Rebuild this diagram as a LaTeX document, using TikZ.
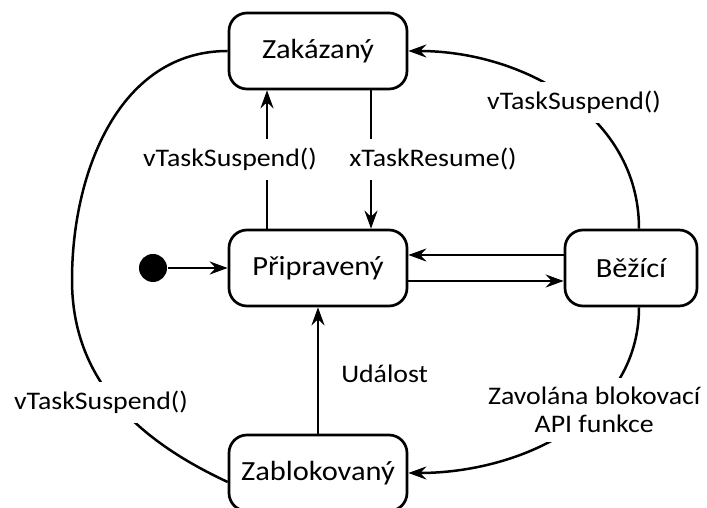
\documentclass[tikz,border=0pt]{standalone}
\usepackage{fontspec}
\setmainfont{Carlito}[FakeStretch=1.1]
\usetikzlibrary{arrows.meta,positioning}

\begin{document}
\begin{tikzpicture}
      [x=1pt, y=1pt, line width=2.5pt,
       >={Stealth[length=18pt,width=13pt,inset=6pt]},
       state/.style={draw, line width=2.7pt, rounded corners=18pt, minimum width=178pt,
         minimum height=76pt, font=\fontsize{27.7}{33}\selectfont},
       lbl/.style={fill=white, inner sep=9pt, font=\fontsize{25.3}{28.5}\selectfont},
      ]
      \useasboundingbox (0,0) rectangle (707,508);
      \node[state] (prip) at (318,240) {Připravený};
      \node[state, above of=prip, node distance=217pt] (zak) {Zakázaný};
      \node[state, below of=prip, node distance=205pt] (zab) {Zablokovaný};
      \node[state, right of=prip, node distance=313pt, minimum width=132pt] (bez) {Běžící};
      \node[circle, fill, inner sep=0pt, minimum size=28pt, left of=prip, node distance=165pt] (start) {};
      \coordinate (oblouk) at (72,228);

      \draw[->] (start) to (prip);
      \draw[->] ([xshift=-51pt]prip.north) to node[lbl, xshift=-37pt]{vTaskSuspend()} ([xshift=-51pt]zak.south);
      \draw[->] ([xshift=53pt]zak.south) to node[lbl, xshift=62pt]{xTaskResume()} ([xshift=53pt]prip.north);
      \draw[->] ([yshift=13pt]bez.west) to ([yshift=13pt]prip.east);
      \draw[->] ([yshift=-13pt]prip.east) to ([yshift=-13pt]bez.west);
      \draw[->] (zab) to node[lbl, fill=none, right=13pt, pos=.47]{Událost} (prip);
      \draw[->] ([xshift=8pt]bez.north) to[out=90, in=0] node[lbl, pos=.47]{vTaskSuspend()} (zak.east);
      \draw[->] ([xshift=8pt]bez.south) to[out=-90, in=0]
        node[lbl, pos=.38, align=center]{Zavolána blokovací\\API funkce} (zab.east);
      \draw (zak.west) to[out=180, in=90] (oblouk)
        to[out=-90, in=155] node[lbl, xshift=-15pt]{vTaskSuspend()} ([yshift=-9pt]zab.west);
    \end{tikzpicture}
\end{document}
